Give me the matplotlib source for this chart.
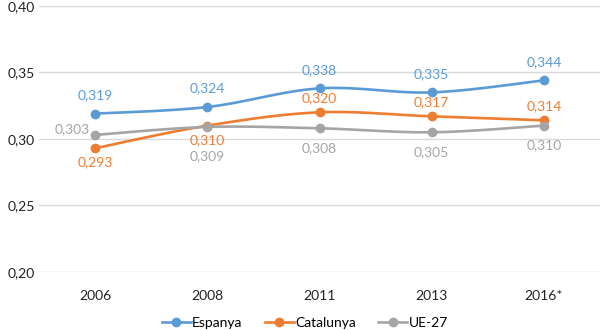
import numpy as np
import matplotlib
matplotlib.use("Agg")
import matplotlib.pyplot as plt
from matplotlib.lines import Line2D

plt.rcParams['font.family'] = ['Lato', 'DejaVu Sans']

categories = ["2006", "2008", "2011", "2013", "2016*"]
espanya = [0.319, 0.324, 0.338, 0.335, 0.344]
catalunya = [0.293, 0.310, 0.320, 0.317, 0.314]
ue27 = [0.303, 0.309, 0.308, 0.305, 0.310]
yticks = [0.20, 0.25, 0.30, 0.35, 0.40]

colors = {"Espanya": "#5B9BD5", "Catalunya": "#ED7D31", "UE-27": "#A5A5A5"}

def smooth(xs, ys, n=30):
    xs = np.asarray(xs, float); ys = np.asarray(ys, float)
    P = np.column_stack([xs, ys])
    out = []
    for i in range(len(P) - 1):
        p0 = P[i - 1] if i > 0 else P[i]
        p1 = P[i]; p2 = P[i + 1]
        p3 = P[i + 2] if i + 2 < len(P) else P[i + 1]
        c1 = p1 + (p2 - p0) / 6.0
        c2 = p2 - (p3 - p1) / 6.0
        t = np.linspace(0, 1, n)[:, None]
        seg = ((1 - t) ** 3) * p1 + 3 * ((1 - t) ** 2) * t * c1 + 3 * (1 - t) * t ** 2 * c2 + t ** 3 * p2
        out.append(seg if i == 0 else seg[1:])
    s = np.vstack(out)
    return s[:, 0], s[:, 1]

FS = 10
fig = plt.figure(figsize=(6, 3.3), dpi=100)
ax = fig.add_axes([0.065, 0.176, 0.935, 0.806])
x = np.arange(len(categories))
ax.set_xlim(-0.5, len(categories) - 0.5)
ax.set_ylim(0.20, 0.40)
ax.set_yticks(yticks)
ax.set_yticklabels([f"{v:.2f}".replace(".", ",") for v in yticks])
ax.set_xticks(x)
ax.set_xticklabels(categories)
ax.tick_params(length=0, labelsize=FS, colors="#222222")
ax.tick_params(axis='x', pad=13)
ax.tick_params(axis='y', pad=3)
for s in ax.spines.values():
    s.set_visible(False)
ax.grid(axis='y', color="#D9D9D9", linewidth=1)
ax.set_axisbelow(True)

def fmt(v):
    return f"{v:.3f}".replace(".", ",")

series = [("Espanya", espanya), ("Catalunya", catalunya), ("UE-27", ue27)]
for name, vals in series:
    sx, sy = smooth(x, vals)
    ax.plot(sx, sy, color=colors[name], lw=1.9, zorder=3)
    ax.plot(x, vals, 'o', color=colors[name], ms=6, zorder=4)

# labels
for i, v in enumerate(espanya):
    ax.annotate(fmt(v), (x[i], v), xytext=(0, 9), textcoords='offset points',
                ha='center', va='bottom', color=colors["Espanya"], fontsize=FS)
cat_pos = ['below', 'below', 'above', 'above', 'above']
for i, v in enumerate(catalunya):
    if cat_pos[i] == 'above':
        ax.annotate(fmt(v), (x[i], v), xytext=(0, 6), textcoords='offset points',
                    ha='center', va='bottom', color=colors["Catalunya"], fontsize=FS)
    else:
        ax.annotate(fmt(v), (x[i], v), xytext=(0, -6), textcoords='offset points',
                    ha='center', va='top', color=colors["Catalunya"], fontsize=FS)
for i, v in enumerate(ue27):
    if i == 0:
        ax.annotate(fmt(v), (x[i], v), xytext=(-4, 0), textcoords='offset points',
                    ha='right', va='bottom', color=colors["UE-27"], fontsize=FS)
    else:
        off = -17 if i == 1 else -10
        ax.annotate(fmt(v), (x[i], v), xytext=(0, off), textcoords='offset points',
                    ha='center', va='top', color=colors["UE-27"], fontsize=FS)

handles = [Line2D([0], [0], color=colors[n], lw=1.9, marker='o', ms=6) for n, _ in series]
fig.legend(handles, [n for n, _ in series], loc='center', bbox_to_anchor=(0.508, 0.022),
           ncol=3, frameon=False, fontsize=FS, handlelength=2.1, handletextpad=0.1,
           columnspacing=1.6)

fig.savefig("out.png", dpi=100)
